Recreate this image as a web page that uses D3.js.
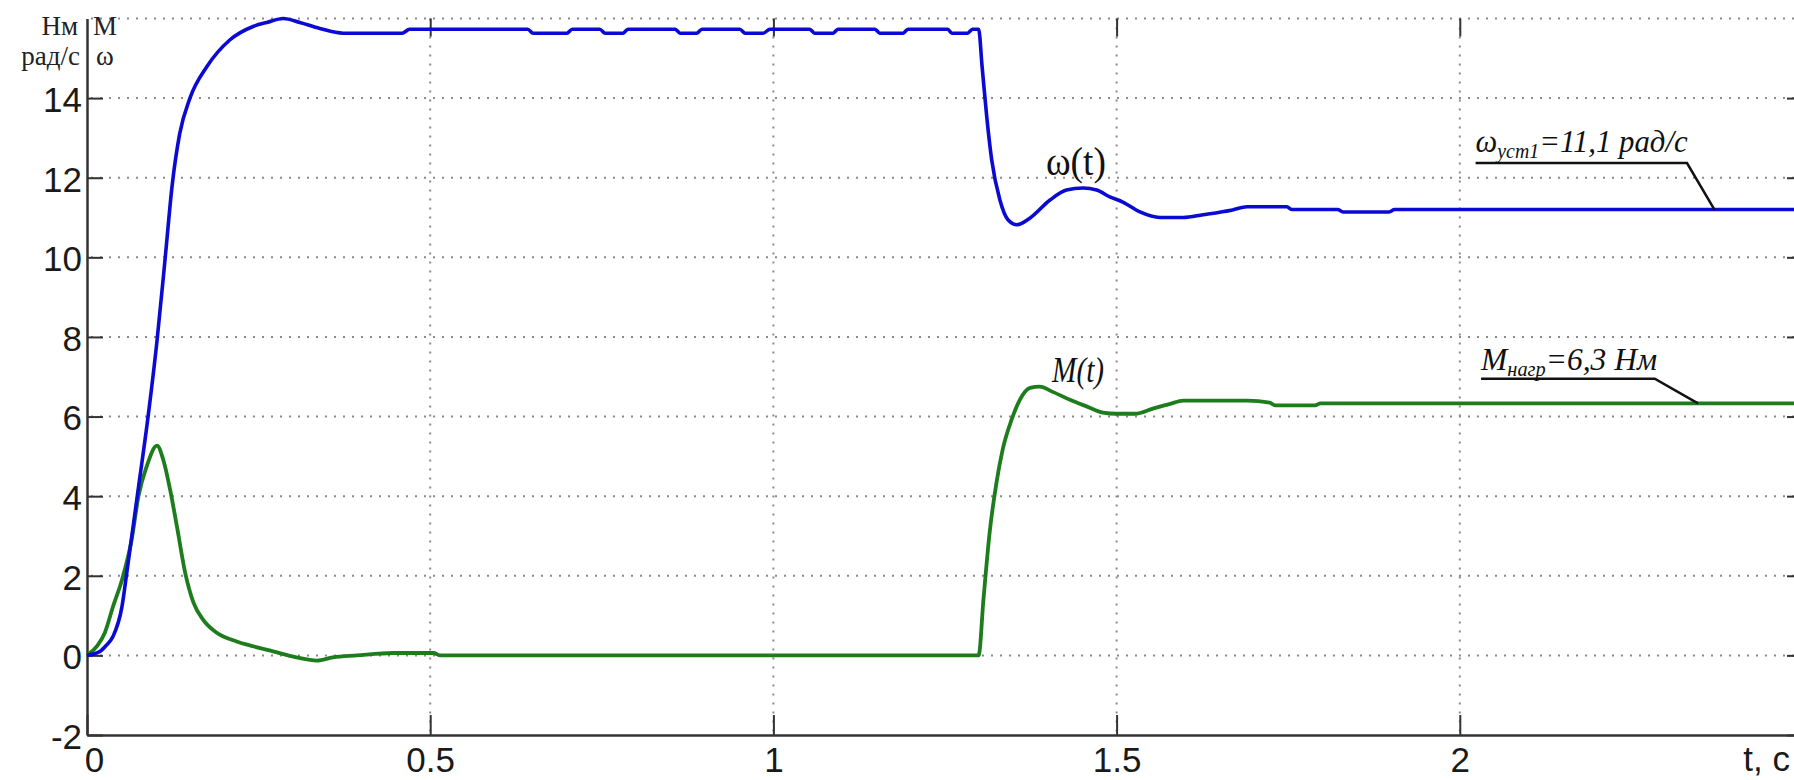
<!DOCTYPE html>
<html>
<head>
  <meta charset="utf-8">
  <title>ω(t), M(t)</title>
  <script src="https://d3js.org/d3.v7.min.js"></script>
  <style>
    body { margin: 0; background: #fff; }
  </style>
</head>
<body>
  <svg id="chart"></svg>

  <script>
    // скорость ω(t), рад/с
    const omegaT = [0, 0.019, 0.028, 0.038, 0.051, 0.058, 0.074, 0.089, 0.102, 0.114, 0.124, 0.135, 0.150, 0.175, 0.208, 0.242, 0.262, 0.286, 0.310, 0.339, 0.373,
      0.459, 0.470, 0.642, 0.650, 0.699, 0.707, 0.747, 0.755, 0.781, 0.788, 0.857, 0.864, 0.888, 0.896, 0.951, 0.959, 0.985, 0.995,
      1.053, 1.060, 1.087, 1.094, 1.148, 1.155, 1.189, 1.196, 1.254, 1.260, 1.283, 1.290, 1.299,
      1.304, 1.311, 1.318, 1.330, 1.342, 1.355, 1.374, 1.403, 1.427, 1.451, 1.471, 1.490, 1.509, 1.534, 1.563, 1.597, 1.626, 1.669,
      1.690, 1.748, 1.755, 1.822, 1.830, 1.897, 1.905, 2.5];
    const omegaV = [0, 0.1, 0.25, 0.48, 1.23, 2.08, 4.1, 6.0, 7.9, 10.0, 11.8, 13.1, 14.0, 14.8, 15.46, 15.8, 15.9, 16.0, 15.9, 15.75, 15.63,
      15.63, 15.73, 15.73, 15.63, 15.63, 15.73, 15.73, 15.63, 15.63, 15.73, 15.73, 15.63, 15.63, 15.73, 15.73, 15.63, 15.63, 15.73,
      15.73, 15.63, 15.63, 15.73, 15.73, 15.63, 15.63, 15.73, 15.73, 15.63, 15.63, 15.73, 15.73,
      14.8, 13.5, 12.45, 11.44, 10.94, 10.82, 10.99, 11.44, 11.69, 11.74, 11.69, 11.52, 11.39, 11.14, 11.0, 11.0, 11.07, 11.19,
      11.27, 11.27, 11.2, 11.2, 11.14, 11.14, 11.2, 11.2];

    // момент M(t), Нм
    const momentT = [0, 0.0146, 0.026, 0.038, 0.051, 0.065, 0.075, 0.087, 0.102, 0.111, 0.121, 0.131, 0.143, 0.155, 0.169, 0.189, 0.218, 0.242, 0.271,
      0.305, 0.335, 0.358, 0.393, 0.446, 0.505, 0.514, 1.299,
      1.306, 1.315, 1.325, 1.334, 1.347, 1.359, 1.374, 1.388, 1.407, 1.432, 1.457, 1.480, 1.500, 1.527, 1.553, 1.578, 1.597,
      1.690, 1.723, 1.731, 1.789, 1.797, 2.5];
    const momentV = [0, 0.23, 0.57, 1.23, 1.9, 2.9, 4.0, 4.75, 5.27, 4.92, 4.17, 3.24, 2.08, 1.33, 0.9, 0.57, 0.35, 0.23, 0.1,
      -0.05, -0.13, -0.05, 0.0, 0.06, 0.06, 0.0, 0.0,
      1.4, 3.08, 4.34, 5.17, 5.92, 6.42, 6.72, 6.75, 6.62, 6.42, 6.25, 6.1, 6.07, 6.07, 6.2, 6.32, 6.4,
      6.4, 6.35, 6.28, 6.28, 6.33, 6.33];

    const xTicks = [0, 0.5, 1, 1.5, 2];
    const yTicks = [-2, 0, 2, 4, 6, 8, 10, 12, 14];
    const yGrid = [0, 2, 4, 6, 8, 10, 12, 14, 16];

    const width = 1794;
    const height = 780;
    const svg = d3.select("#chart")
      .attr("width", width)
      .attr("height", height)
      .style("font-family", "'Liberation Sans', Arial, sans-serif");

    const x = d3.scaleLinear().domain([0, 2.5]).range([87, 1803]);
    const y = d3.scaleLinear().domain([-2, 16]).range([735, 18.5]);

    // сетка
    const grid = svg.append("g")
      .attr("stroke", "#8a8a8a")
      .attr("stroke-width", 2)
      .attr("stroke-dasharray", "2,7");
    grid.selectAll(".gy").data(yGrid).enter().append("line")
      .attr("x1", x(0) + 4).attr("x2", x(2.5))
      .attr("y1", d => y(d)).attr("y2", d => y(d));
    grid.selectAll(".gx").data(xTicks.slice(1)).enter().append("line")
      .attr("x1", d => x(d)).attr("x2", d => x(d))
      .attr("y1", y(16)).attr("y2", y(-2));

    // оси
    const axisColor = "#333";
    function styleAxis(g) {
      g.selectAll("line").attr("stroke", axisColor).attr("stroke-width", 2);
      g.selectAll("path").attr("stroke", axisColor).attr("stroke-width", 2.5);
      g.selectAll("text").attr("fill", "#1a1a1a").attr("font-size", "35px")
        .attr("font-family", "'Liberation Sans', Arial, sans-serif");
    }

    svg.append("g")
      .attr("transform", `translate(0,${y(-2)})`)
      .call(d3.axisBottom(x).tickValues(xTicks).tickFormat(d => d).tickSize(-20).tickSizeOuter(0).tickPadding(12))
      .call(styleAxis)
      .call(g => g.selectAll("text").filter(d => d === 0).attr("dx", 7));

    svg.append("g")
      .attr("transform", `translate(0,${y(16)})`)
      .call(d3.axisTop(x).tickValues(xTicks.slice(1)).tickFormat("").tickSize(-18))
      .call(g => g.select(".domain").remove())
      .call(styleAxis);

    svg.append("g")
      .attr("transform", `translate(${x(0)},0)`)
      .call(d3.axisLeft(y).tickValues(yTicks).tickFormat(d => d).tickSize(-16).tickSizeOuter(0).tickPadding(5))
      .call(styleAxis)
      .call(g => g.selectAll("text").attr("dy", "0.38em"));

    svg.append("g")
      .attr("transform", `translate(${x(2.5)},0)`)
      .call(d3.axisRight(y).tickValues(yTicks).tickFormat("").tickSize(-16))
      .call(g => g.select(".domain").remove())
      .call(styleAxis);

    // кривые
    const line = d3.line()
      .x(d => x(d[0]))
      .y(d => y(d[1]))
      .curve(d3.curveMonotoneX);

    svg.append("path")
      .datum(momentT.map((t, i) => [t, momentV[i]]))
      .attr("fill", "none")
      .attr("stroke", "#1d7d1d")
      .attr("stroke-width", 3.8)
      .attr("stroke-linejoin", "round")
      .attr("d", line);

    svg.append("path")
      .datum(omegaT.map((t, i) => [t, omegaV[i]]))
      .attr("fill", "none")
      .attr("stroke", "#0a0ad2")
      .attr("stroke-width", 3.6)
      .attr("stroke-linejoin", "round")
      .attr("d", line);

    // подписи кривых
    const serif = "'Liberation Serif', 'Times New Roman', serif";
    svg.append("text")
      .attr("x", x(1.397)).attr("y", y(12.07))
      .attr("font-family", serif).attr("font-size", "40px")
      .attr("textLength", 60).attr("lengthAdjust", "spacingAndGlyphs")
      .attr("fill", "#111")
      .text("ω(t)");

    svg.append("text")
      .attr("x", x(1.406)).attr("y", y(6.88))
      .attr("font-family", serif).attr("font-size", "36px").attr("font-style", "italic")
      .attr("textLength", 52).attr("lengthAdjust", "spacingAndGlyphs")
      .attr("fill", "#111")
      .text("M(t)");

    // выноски установившихся значений
    const callouts = [
      { main: "ω", sub: "уст1", rest: "=11,1 рад/с", tx: 2.023, ty: 12.65, len: 212, x0: 2.023, x1: 2.331, x2: 2.371, yh: 12.37, yv: 11.2 },
      { main: "M", sub: "нагр", rest: "=6,3 Нм", tx: 2.031, ty: 7.18, len: 176, x0: 2.031, x1: 2.284, x2: 2.347, yh: 6.95, yv: 6.33 }
    ];
    callouts.forEach(c => {
      const t = svg.append("text")
        .attr("x", x(c.tx)).attr("y", y(c.ty))
        .attr("font-family", serif).attr("font-size", "31px").attr("font-style", "italic")
        .attr("fill", "#111")
        .attr("textLength", c.len).attr("lengthAdjust", "spacingAndGlyphs");
      t.append("tspan").text(c.main);
      t.append("tspan").attr("font-size", "20px").attr("dy", 6).text(c.sub);
      t.append("tspan").attr("dy", -6).text(c.rest);
      svg.append("path")
        .attr("d", `M${x(c.x0)},${y(c.yh)}L${x(c.x1)},${y(c.yh)}L${x(c.x2)},${y(c.yv)}`)
        .attr("fill", "none")
        .attr("stroke", "#111")
        .attr("stroke-width", 2.5);
    });

    // единицы по осям
    const units = svg.append("g").attr("font-family", serif).attr("font-size", "27px").attr("fill", "#222");
    units.append("text").attr("x", 78).attr("y", 35).attr("text-anchor", "end").text("Нм");
    units.append("text").attr("x", 80).attr("y", 65).attr("text-anchor", "end").text("рад/с");
    units.append("text").attr("x", 93).attr("y", 35).text("M");
    units.append("text").attr("x", 96).attr("y", 65).text("ω");

    svg.append("text")
      .attr("x", 1790).attr("y", 771)
      .attr("text-anchor", "end")
      .attr("font-size", "35px")
      .attr("fill", "#1a1a1a")
      .text("t, c");
  </script>
</body>
</html>
